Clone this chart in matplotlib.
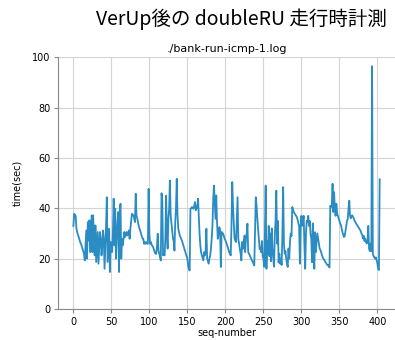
import numpy as np
from matplotlib import pyplot as plt

plt.rcParams['font.family'] = ['DejaVu Sans']

title = 'VerUp後の doubleRU 走行時計測'
logName = './bank-run-icmp-1.log'

# time(sec) per sequence number
times = [
    33, 37.8, 37.5, 37, 32, 30.6, 29.5, 28.6, 27.5, 26.5,
    25.9, 25, 24, 23, 21.9, 19.3, 25, 31.2, 20, 34.5,
    27.2, 35.2, 22.6, 30, 37.2, 22.6, 37.2, 28, 21.3, 33.2,
    18.7, 25, 30.6, 18, 24, 30.6, 27.9, 21.3, 25, 31.2,
    27.9, 16, 25, 33.2, 44.4, 18.7, 25, 31.9, 14.7, 26.6,
    24, 22.6, 30, 43.8, 25.3, 39.8, 20, 28, 34.5, 38.5,
    14.7, 38.5, 41.8, 20, 27.9, 25.3, 27.9, 30.6, 28.6, 29.5,
    30.6, 29.2, 30, 31.2, 27.9, 31.9, 35, 37.8, 37.5, 37.2,
    36, 34.5, 45.8, 37.2, 36, 34.5, 33, 31.9, 31, 29.9,
    29, 28, 27.9, 25.9, 26.5, 25.9, 26.6, 26, 25.9, 47.7,
    30, 25.9, 26.6, 25.5, 25, 24.6, 23.5, 22.6, 22, 21.9,
    25, 29.9, 23.2, 22, 20.6, 19.3, 46, 42.5, 21.3, 22,
    21.3, 27.9, 45, 30, 24, 35.8, 40, 51, 37.2, 34,
    31.2, 28, 27, 23.2, 34.5, 40, 51.7, 37.2, 31.9, 30.5,
    29.2, 28.5, 27.9, 27, 25.9, 25, 23.9, 23, 21.9, 21,
    20, 17.3, 16, 15.3, 39.8, 40, 40.5, 40, 39.8, 41,
    42.5, 39.2, 41, 40, 43.8, 37.2, 30, 25.3, 22.6, 21.3,
    20.3, 19.3, 22.6, 21.3, 23, 31.9, 20, 19, 18, 20,
    21.3, 23.9, 28, 33.2, 43.8, 49, 42, 35.8, 45.1, 34.5,
    27.9, 30, 32.5, 31.5, 16.7, 30.6, 30.3, 29.9, 29, 27.9,
    27.2, 26.6, 25.6, 24.6, 23.6, 22.6, 22, 21.3, 33.2, 50.4,
    41.1, 34, 27.9, 27.2, 26.6, 35, 44.4, 27.9, 25.9, 23.9,
    22, 19.3, 26.6, 23.9, 26.5, 29.2, 22.6, 28, 30, 33.9,
    22.6, 22, 21.3, 20.6, 20, 19.3, 18.7, 18, 17.3, 30,
    44.4, 41.1, 36, 31.9, 28, 23.9, 24, 22.6, 27, 21,
    20, 16.8, 30, 49, 16, 27, 22, 33, 21, 30,
    19, 32, 24, 20, 16.8, 29, 35, 47, 26, 35,
    18.5, 22, 18, 20, 17.5, 30, 48.4, 26, 22, 23,
    20, 18, 16.7, 24, 20, 27, 30, 29, 40.5, 39.5,
    38.5, 38, 37.5, 37, 36.5, 35.5, 34, 33, 18, 33,
    37, 33, 35, 37, 25, 16, 30, 35, 34.5, 37,
    33, 35, 30, 28, 18.6, 34, 24, 16, 30.5, 22.6,
    27, 30, 28, 26, 24, 23.5, 22.5, 21.5, 20.5, 20,
    19.5, 19, 18.5, 18, 17.5, 17.5, 17, 16.5, 41, 40.5,
    41, 49.7, 38.5, 46.4, 40, 37, 41.8, 38, 37, 36,
    35, 34, 33.3, 32, 30.5, 29.5, 28.6, 29, 31, 33,
    35, 35.8, 40, 43, 37, 36, 37, 37.2, 36.5, 36,
    35, 34.5, 34, 33.5, 33, 32.5, 32, 31.5, 31, 30,
    29.5, 28, 29, 27, 28, 26.5, 26, 27, 33, 24,
    23, 26, 23, 96.4, 22, 21, 20.5, 20, 20.5, 19.5,
    18, 16, 15.5, 51.5,
]
seq = np.arange(len(times))

fig = plt.figure(figsize=(3.95, 3.4), dpi=100)
ax = fig.add_axes([0.147, 0.091, 0.853, 0.741])
ax.plot(seq, times, color='#2b8cc4', linewidth=1.3)

ax.set_ylim(0, 100)
ax.set_xticks(range(0, 401, 50))
ax.set_yticks(range(0, 101, 20))
ax.grid(True, color='#d4d4d4', linewidth=0.8)
ax.set_axisbelow(True)
for side in ['top', 'right']:
    ax.spines[side].set_visible(False)
for side in ['left', 'bottom']:
    ax.spines[side].set_color('#888888')
ax.tick_params(labelsize=7, length=3, pad=2.5, color='#888888')
ax.set_xlabel('seq-number', fontsize=7, labelpad=1)
ax.set_ylabel('time(sec)', fontsize=7, labelpad=7)
ax.set_title(logName, fontsize=8, pad=4)
fig.suptitle(title, x=0.61, y=0.975, fontsize=14,
             family=['Noto Sans CJK JP', 'DejaVu Sans'])

plt.savefig('out.png', dpi=100)
